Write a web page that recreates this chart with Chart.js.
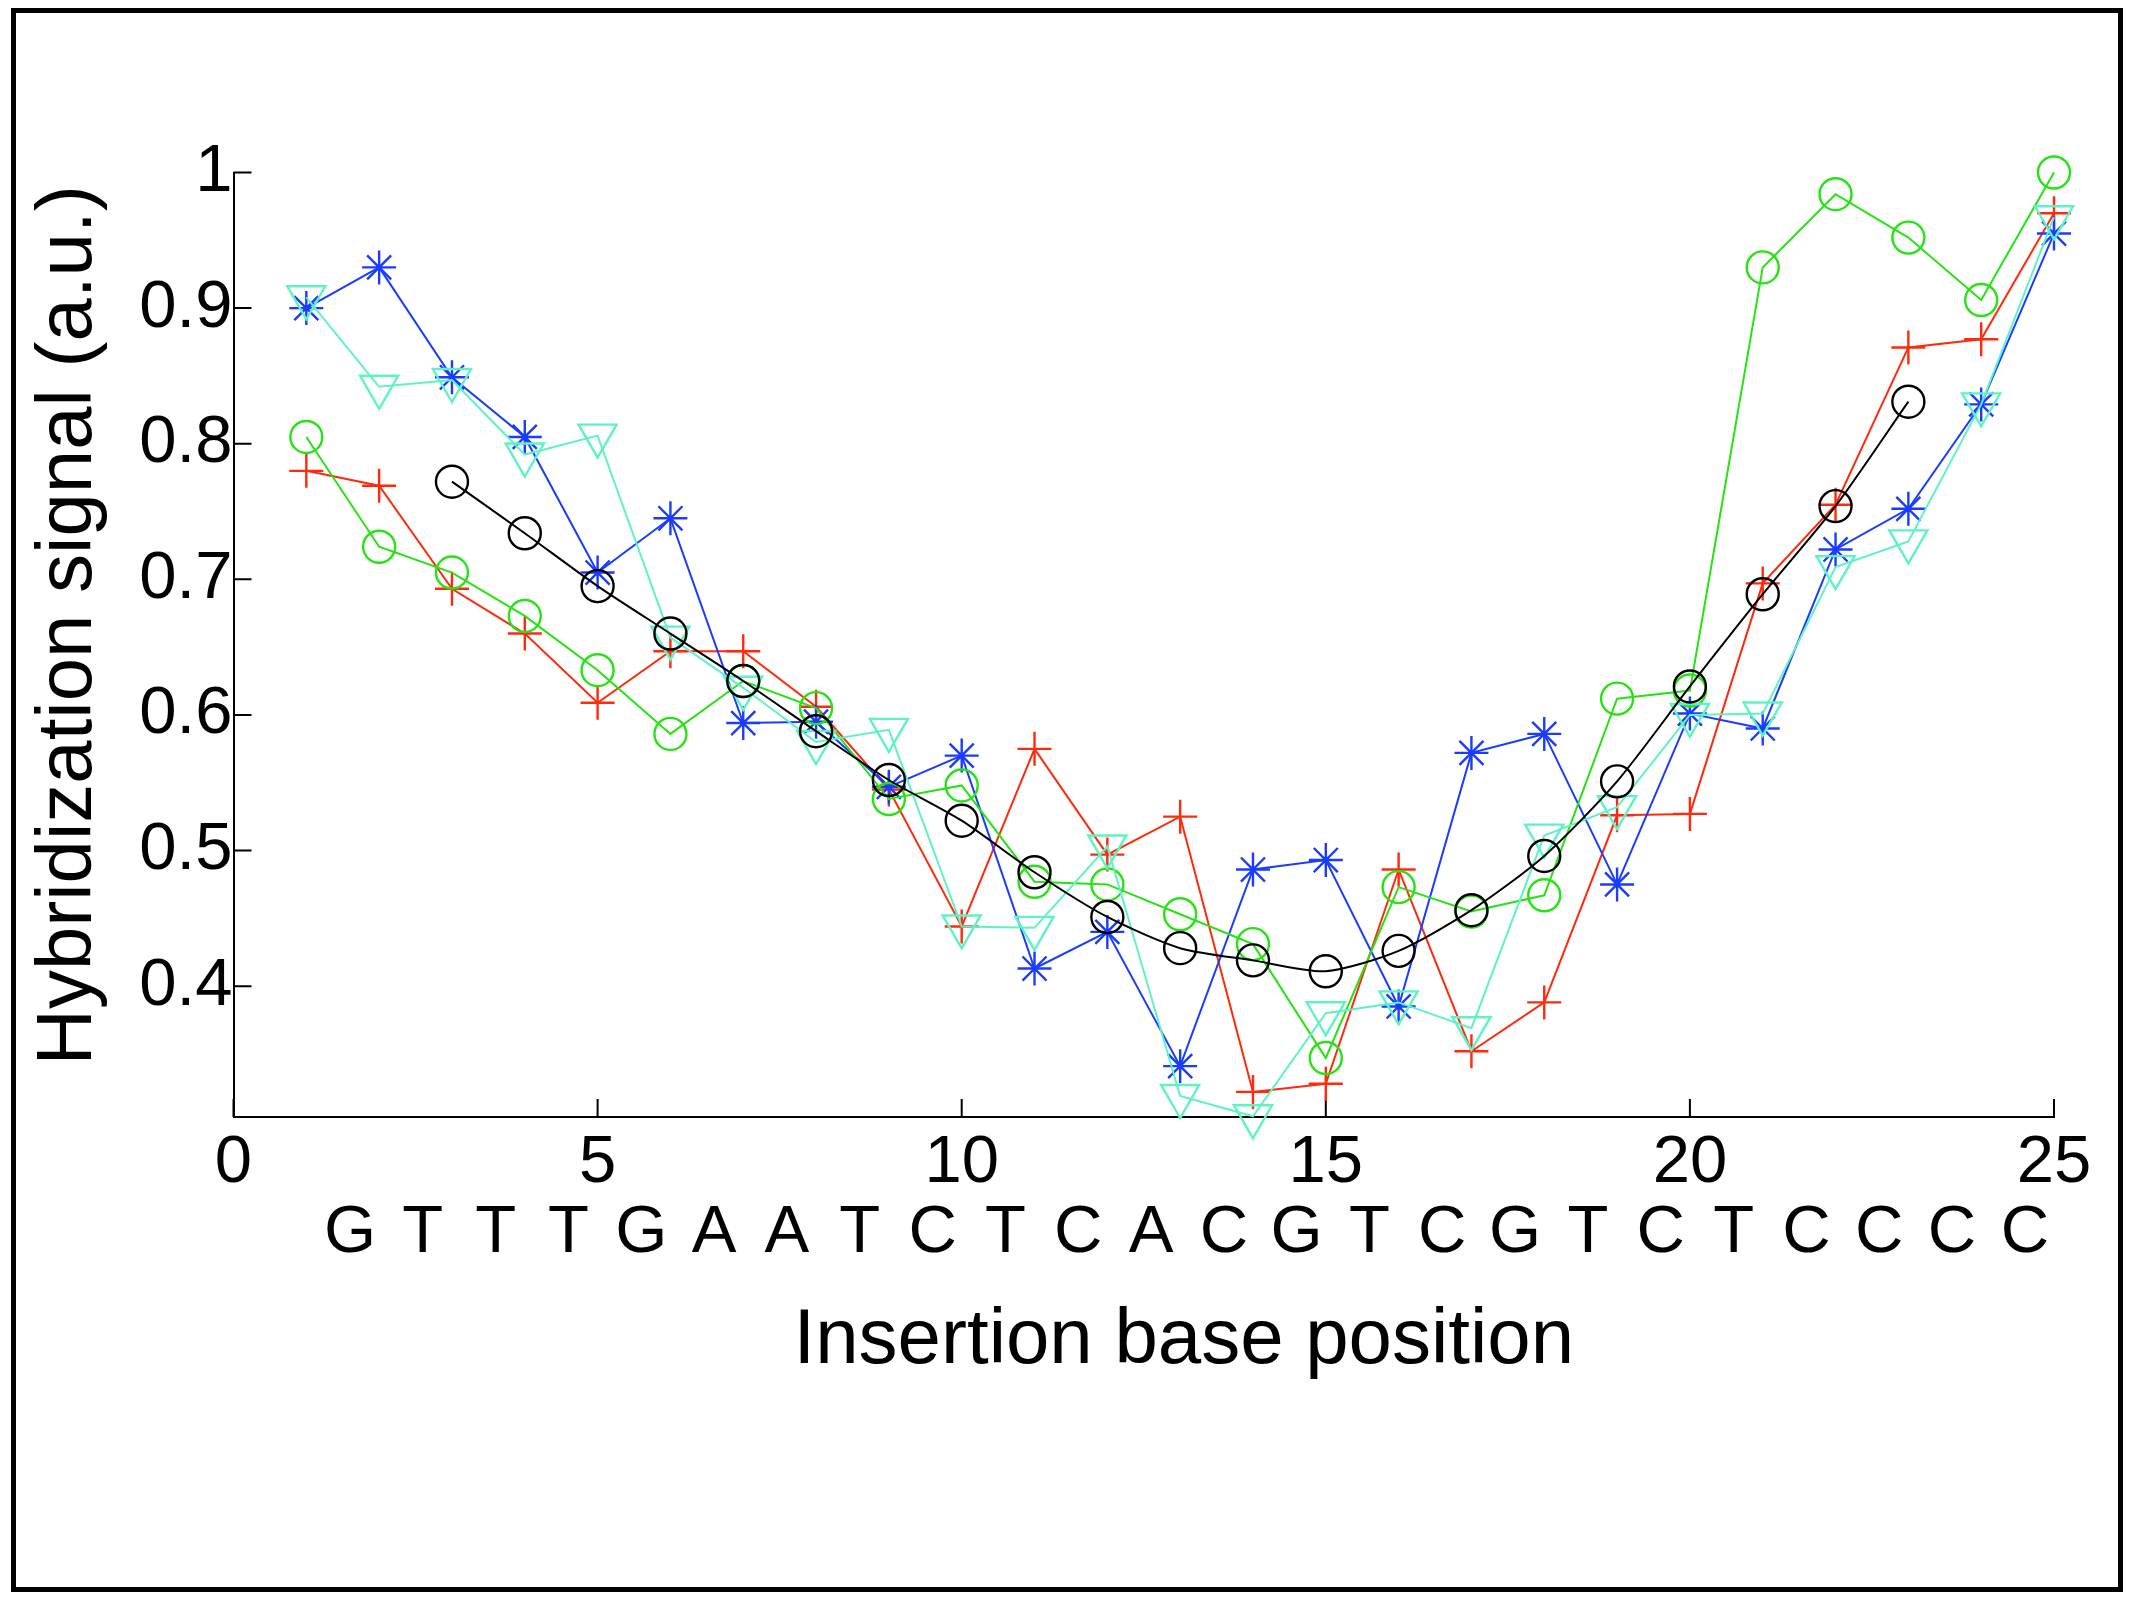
<!DOCTYPE html>
<html>
<head>
<meta charset="utf-8">
<title>Hybridization signal vs insertion base position</title>
<script src="https://cdn.jsdelivr.net/npm/chart.js@4.4.1/dist/chart.umd.min.js"></script>
<style>
  html, body { margin: 0; padding: 0; background: #fff; }
  #wrap { position: relative; width: 2129px; height: 1600px; }
  #frame {
    position: absolute; left: 11px; top: 8px; width: 2112px; height: 1584px;
    box-sizing: border-box; border: 5px solid #000; pointer-events: none;
  }
</style>
</head>
<body>
<div id="wrap">
  <canvas id="chart" width="2129" height="1600"></canvas>
  <div id="frame"></div>
</div>
<script>
// insertion positions and the probe sequence shown under the axis
const positions = [1, 2, 3, 4, 5, 6, 7, 8, 9, 10, 11, 12, 13, 14, 15, 16, 17, 18, 19, 20, 21, 22, 23, 24, 25];
const sequence = ['G', 'T', 'T', 'T', 'G', 'A', 'A', 'T', 'C', 'T', 'C', 'A', 'C', 'G', 'T', 'C', 'G', 'T', 'C', 'T', 'C', 'C', 'C', 'C'];

const xTickValues = [0, 5, 10, 15, 20, 25];
const yTickValues = [0.4, 0.5, 0.6, 0.7, 0.8, 0.9, 1];

const xTitle = 'Insertion base position';
const yTitle = 'Hybridization signal (a.u.)';

const redPlus = [0.780, 0.769, 0.693, 0.660, 0.609, 0.647, 0.647, 0.606, 0.545, 0.444,
                 0.575, 0.497, 0.525, 0.322, 0.328, 0.486, 0.352, 0.388, 0.526, 0.527,
                 0.697, 0.755, 0.871, 0.877, 0.970];
const blueStar = [0.900, 0.930, 0.849, 0.805, 0.705, 0.745, 0.594, 0.595, 0.547, 0.570,
                  0.413, 0.440, 0.341, 0.486, 0.493, 0.385, 0.572, 0.586, 0.475, 0.601,
                  0.590, 0.722, 0.752, 0.829, 0.955];
const greenCircle = [0.805, 0.724, 0.705, 0.673, 0.633, 0.586, 0.625, 0.605, 0.538, 0.548,
                     0.477, 0.475, 0.453, 0.431, 0.347, 0.473, 0.455, 0.467, 0.612, 0.618,
                     0.930, 0.984, 0.952, 0.906, 1.000];
const cyanTriangle = [0.908, 0.842, 0.847, 0.792, 0.806, 0.657, 0.620, 0.580, 0.589, 0.444,
                      0.443, 0.503, 0.319, 0.304, 0.380, 0.388, 0.369, 0.511, 0.532, 0.600,
                      0.601, 0.709, 0.728, 0.829, 0.967];
const blackCircle = [null, null, 0.772, 0.734, 0.695, 0.660, 0.625, 0.588, 0.552, 0.522,
                     0.484, 0.451, 0.428, 0.419, 0.411, 0.426, 0.456, 0.496, 0.551, 0.621,
                     0.689, 0.754, 0.831, null, null];

// layout constants
const letterShift = 0.6;      // letters sit a bit right of each integer position
const xTitleAt = 13.05;       // x value the axis title is centred on
const yTitleAt = 0.666;       // y value the rotated title is centred on
const fontFamily = '"Liberation Sans", Arial, Helvetica, sans-serif';

Chart.defaults.font.family = fontFamily;
Chart.defaults.color = '#000';

function toPoints(values) {
    return positions.map((x, i) => ({ x: x, y: values[i] })).filter(p => p.y !== null);
}

function series(label, values, color, pointStyle, radius, extra) {
    return Object.assign({
        label: label,
        data: toPoints(values),
        borderColor: color,
        backgroundColor: 'rgba(0,0,0,0)',
        borderWidth: 2,
        pointStyle: pointStyle,
        pointRadius: radius,
        pointBorderColor: color,
        pointBackgroundColor: 'rgba(0,0,0,0)',
        pointBorderWidth: 2.4,
        pointHoverRadius: radius,
        tension: 0,
        clip: false
    }, extra || {});
}

// inward tick marks and the two axis titles
const axisDecor = {
    id: 'axisDecor',
    beforeDatasetsDraw(chart) {
        const { ctx, chartArea: a, scales: { x, y } } = chart;
        ctx.save();
        ctx.strokeStyle = '#000';
        ctx.lineWidth = 2;
        ctx.beginPath();
        yTickValues.forEach(v => {
            const py = y.getPixelForValue(v);
            ctx.moveTo(a.left, py);
            ctx.lineTo(a.left + 18, py);
        });
        xTickValues.forEach(v => {
            const px = x.getPixelForValue(v);
            ctx.moveTo(px, a.bottom);
            ctx.lineTo(px, a.bottom - 18);
        });
        ctx.stroke();
        ctx.restore();
    },
    afterDraw(chart) {
        const { ctx, chartArea: a, scales: { x, y } } = chart;
        ctx.save();
        ctx.fillStyle = '#000';
        ctx.font = '78px ' + fontFamily;
        ctx.textAlign = 'center';
        ctx.textBaseline = 'alphabetic';
        ctx.fillText(xTitle, x.getPixelForValue(xTitleAt), a.bottom + 246);
        ctx.translate(a.left - 143, y.getPixelForValue(yTitleAt));
        ctx.rotate(-Math.PI / 2);
        ctx.fillText(yTitle, 0, 0);
        ctx.restore();
    }
};

const ctx = document.getElementById('chart').getContext('2d');

new Chart(ctx, {
    type: 'line',
    data: {
        datasets: [
            series('Mean', blackCircle, '#000000', 'circle', 16, { tension: 0.25 }),
            series('Probe 4', cyanTriangle, '#5ef2c4', 'triangle', 22, { pointRotation: 180 }),
            series('Probe 3', greenCircle, '#27e214', 'circle', 16),
            series('Probe 2', blueStar, '#1a3cff', 'star', 17),
            series('Probe 1', redPlus, '#ff2a0c', 'cross', 17)
        ]
    },
    options: {
        responsive: false,
        animation: false,
        events: [],
        layout: { padding: { top: 172.5, right: 75, left: 0, bottom: 0 } },
        plugins: {
            legend: { display: false },
            tooltip: { enabled: false }
        },
        scales: {
            x: {
                type: 'linear',
                position: 'bottom',
                weight: 0,
                min: 0,
                max: 25,
                bounds: 'data',
                afterBuildTicks: s => { s.ticks = xTickValues.map(v => ({ value: v })); },
                afterFit: s => { s.height = 70; },
                grid: { display: false, drawTicks: false },
                border: { display: true, color: '#000', width: 2 },
                ticks: {
                    padding: 6,
                    autoSkip: false,
                    maxRotation: 0,
                    color: '#000',
                    font: { size: 67 }
                }
            },
            seq: {
                type: 'linear',
                position: 'bottom',
                weight: 1,
                min: 0,
                max: 25,
                bounds: 'data',
                afterBuildTicks: s => {
                    s.ticks = sequence.map((_, i) => ({ value: positions[i] + letterShift }));
                },
                afterFit: s => { s.height = 413; },
                grid: { display: false, drawTicks: false },
                border: { display: false },
                ticks: {
                    padding: 6,
                    autoSkip: false,
                    maxRotation: 0,
                    color: '#000',
                    font: { size: 67 },
                    callback: (value, index) => sequence[index]
                }
            },
            y: {
                type: 'linear',
                position: 'left',
                min: 0.3035,
                max: 1,
                bounds: 'data',
                afterBuildTicks: s => { s.ticks = yTickValues.map(v => ({ value: v })); },
                afterFit: s => { s.width = 233.5; },
                grid: { display: false, drawTicks: false },
                border: { display: true, color: '#000', width: 2 },
                ticks: {
                    padding: 1,
                    color: '#000',
                    font: { size: 67 },
                    callback: v => String(+v.toFixed(1))
                }
            }
        }
    },
    plugins: [axisDecor]
});
</script>
</body>
</html>
